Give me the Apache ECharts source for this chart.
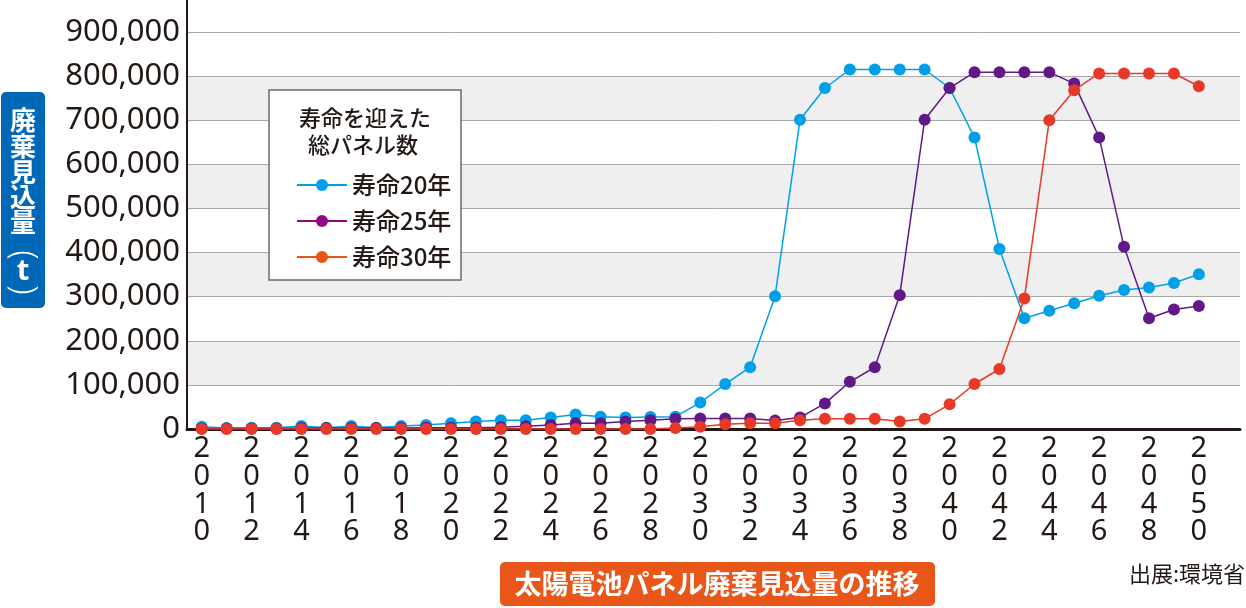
<!DOCTYPE html>
<html>
<head>
<meta charset="utf-8">
<script src="https://cdn.jsdelivr.net/npm/echarts@6/dist/echarts.min.js"></script>
<style>
html,body{margin:0;padding:0;background:#fff;}
#chart{width:1246px;height:608px;}
</style>
</head>
<body>
<div id="chart"></div>
<script>
const years = [2010,2011,2012,2013,2014,2015,2016,2017,2018,2019,2020,2021,2022,2023,2024,2025,2026,2027,2028,2029,2030,2031,2032,2033,2034,2035,2036,2037,2038,2039,2040,2041,2042,2043,2044,2045,2046,2047,2048,2049,2050];
const yearLabels = [2010,2012,2014,2016,2018,2020,2022,2024,2026,2028,2030,2032,2034,2036,2038,2040,2042,2044,2046,2048,2050];
const seriesNames = ['寿命20年','寿命25年','寿命30年'];
const life20 = [5000,2000,3000,3000,7000,3000,7000,3000,7000,9000,13000,17000,20000,20000,26000,33000,28000,26000,27000,28000,60000,102000,140000,301000,701000,773000,815000,815000,815000,815000,773000,661000,408000,251000,268000,285000,302000,315000,321000,331000,351000];
const life25 = [1000,1000,1000,1000,2000,2000,2000,2000,2000,3000,3000,3000,4000,6000,9000,13000,13000,17000,20000,23000,24000,24000,24000,19000,26000,58000,107000,140000,303000,701000,773000,809000,809000,809000,809000,783000,661000,413000,251000,271000,279000];
const life30 = [0,0,0,0,0,0,0,0,0,0,0,0,0,0,0,0,0,0,0,2000,5000,11000,13000,13000,20000,23000,23000,23000,17000,23000,56000,102000,136000,296000,700000,768000,806000,806000,806000,806000,777000];
const yTicks = [0,100000,200000,300000,400000,500000,600000,700000,800000,900000];

const lineColors = ['#00a0e9','#601986','#e83828'];
const legendColors = ['#00a0e9','#920783','#ea5514'];
const ink = '#231815';
const cjk = '"Noto Sans CJK JP", "Noto Sans", sans-serif';
const latin = '"Noto Sans", sans-serif';

const chart = echarts.init(document.getElementById('chart'), null, {renderer:'canvas'});
const allData = [life20, life25, life30];

// [char, y, rotation, font]
const yTitleChars = [
  ['廃',120,0,'bold 26px '+cjk],['棄',146,0,'bold 26px '+cjk],['見',172,0,'bold 26px '+cjk],
  ['込',197,0,'bold 26px '+cjk],['量',222,0,'bold 26px '+cjk],
  ['(',255,-Math.PI/2,'300 34px '+latin],['t',272,0,'bold 29px '+latin],[')',290,-Math.PI/2,'300 34px '+latin]
];

const graphics = [
  {type:'line', shape:{x1:187,y1:0,x2:187,y2:33}, style:{stroke:ink,lineWidth:2}, z:10},
  {type:'rect', shape:{x:269,y:90,width:192,height:190}, style:{fill:'#fff',stroke:'#6b6b6b',lineWidth:1.5}, z:3},
  {type:'text', x:365, y:118, style:{text:'寿命を迎えた', font:'500 22px '+cjk, fill:ink, align:'center', verticalAlign:'middle'}, z:4},
  {type:'text', x:363, y:145, style:{text:'総パネル数', font:'500 22px '+cjk, fill:ink, align:'center', verticalAlign:'middle'}, z:4},
  {type:'rect', shape:{x:1,y:92,width:44,height:216,r:5}, style:{fill:'#0068b7'}, z:3},
  {type:'rect', shape:{x:500,y:562,width:435,height:44,r:5}, style:{fill:'#e9561a'}, z:3},
  {type:'text', x:717, y:584, style:{text:'太陽電池パネル廃棄見込量の推移', font:'bold 27px '+cjk, fill:'#fff', align:'center', verticalAlign:'middle'}, z:4},
  {type:'text', x:1245, y:574, style:{text:'出展:環境省', font:'22px '+cjk, fill:ink, align:'right', verticalAlign:'middle'}, z:4}
];
yTitleChars.forEach(([c,y,rot,font])=>{
  graphics.push({type:'text', x:23, y:y, rotation:rot, style:{text:c, font:font, fill:'#fff', align:'center', verticalAlign:'middle'}, z:4});
});

const option = {
  animation:false,
  backgroundColor:'#fff',
  grid:{left:187, right:6, top:32, bottom:179, containLabel:false},
  xAxis:{
    type:'value', min:2009.41, max:2051.65,
    axisLine:{show:true, onZero:false, lineStyle:{color:ink, width:3}},
    axisTick:{show:false},
    splitLine:{show:false},
    axisLabel:{
      customValues: yearLabels,
      formatter: v => String(v).split('').join('\n'),
      fontSize:29, lineHeight:27.7, margin:6, color:ink, fontFamily:latin
    }
  },
  yAxis:{
    type:'value', min:0, max:900000, interval:100000,
    axisLine:{show:true, lineStyle:{color:ink, width:2}},
    axisTick:{show:false},
    splitLine:{show:true, lineStyle:{color:'#a8a8a8', width:1}},
    splitArea:{show:true, areaStyle:{color:['#ffffff','#efefef']}},
    axisLabel:{
      formatter: v => v.toLocaleString('en-US'),
      fontSize:31, margin:7, color:ink, fontFamily:latin
    }
  },
  legend:{
    orient:'vertical', left:291, top:168, z:6,
    itemWidth:50, itemHeight:15, itemGap:12,
    textStyle:{fontSize:24, fontWeight:500, lineHeight:24, color:ink, fontFamily:cjk},
    data: seriesNames.map((n,i)=>({name:n, itemStyle:{color:legendColors[i]}, lineStyle:{color:legendColors[i], width:2}}))
  },
  graphic: graphics,
  series: seriesNames.map((n,i)=>({
    name:n, type:'line', symbol:'circle', symbolSize:12, showAllSymbol:true,
    data: years.map((y,k)=>[y, allData[i][k]]),
    itemStyle:{color:lineColors[i]},
    lineStyle:{color:lineColors[i], width:1.5},
    z: 2 + i
  }))
};
chart.setOption(option);
</script>
</body>
</html>
